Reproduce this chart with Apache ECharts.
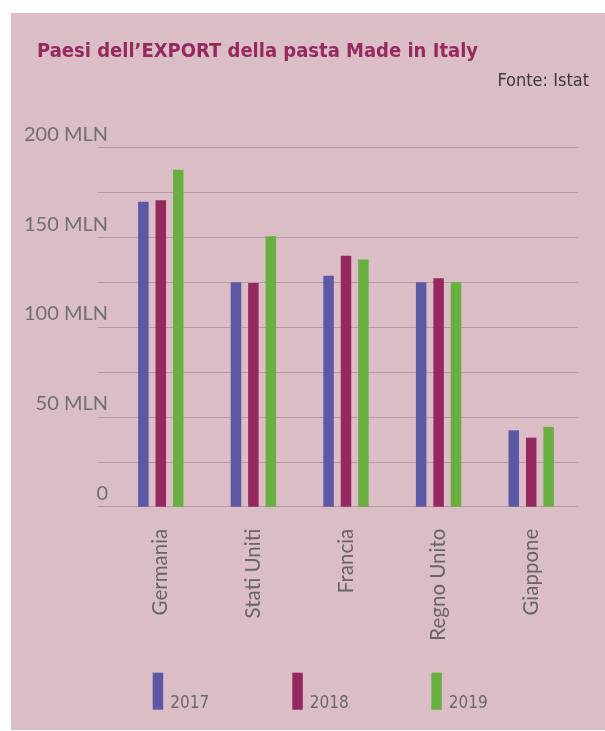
<!DOCTYPE html>
<html>
<head>
<meta charset="utf-8">
<script src="https://cdn.jsdelivr.net/npm/echarts@6/dist/echarts.min.js"></script>
<style>
html,body{margin:0;padding:0;background:#ffffff;}
#bg{position:absolute;left:11px;top:13px;width:594px;height:717px;background:#dbbdc5;}
#chart{position:absolute;left:0;top:0;width:605px;height:731px;}
</style>
</head>
<body>
<div id="bg"></div>
<div id="chart"></div>
<script>
const categories = ['Germania', 'Stati Uniti', 'Francia', 'Regno Unito', 'Giappone'];
const years = ['2017', '2018', '2019'];
const values2017 = [169.7, 124.9, 128.5, 124.9, 42.5];
const values2018 = [170.5, 124.5, 139.7, 127.1, 38.4];
const values2019 = [187.5, 150.5, 137.5, 124.9, 44.4];
const yTickValues = [0, 50, 100, 150, 200];
const yTickLabels = ['0', '50 MLN', '100 MLN', '150 MLN', '200 MLN'];
const titleText = 'Paesi dell\u2019EXPORT della pasta Made in Italy';
const sourceText = 'Fonte: Istat';

const colors = ['#5c58a6', '#962860', '#67af3e'];
const narrow = "'Liberation Sans Narrow','DejaVu Sans Condensed','Liberation Sans',sans-serif";
const legendLefts = [152.7, 292.3, 431.3];

const chart = echarts.init(document.getElementById('chart'), null, {renderer: 'canvas'});
const seriesValues = [values2017, values2018, values2019];

chart.setOption({
  backgroundColor: 'transparent',
  animation: false,
  title: [
    {text: titleText, left: 37, top: 42, padding: 0,
     textStyle: {fontFamily: narrow, fontWeight: 'bold', fontSize: 20, lineHeight: 20, color: '#962a5f'}},
    {text: sourceText, right: 16, top: 72, padding: 0,
     textStyle: {fontFamily: narrow, fontWeight: 'normal', fontSize: 18, lineHeight: 18, color: '#3a3a3a'}}
  ],
  legend: years.map((y, i) => ({
    data: [y],
    left: legendLefts[i], top: 672.7, padding: 0,
    icon: 'rect', itemWidth: 10.5, itemHeight: 37,
    selectedMode: false,
    formatter: '{t|{name}}',
    textStyle: {fontFamily: narrow, fontSize: 17, color: '#6a6a6a',
      rich: {t: {fontFamily: narrow, fontSize: 17, color: '#6a6a6a', padding: [24, 0, 0, 2]}}}
  })),
  grid: [
    {left: 114.5, right: 27.5, top: 147.3, bottom: 224.3, containLabel: false},
    {left: 98, right: 27.3, top: 147.3, bottom: 224.3, containLabel: false}
  ],
  xAxis: [
    {type: 'category', gridIndex: 0, data: categories,
     axisLine: {show: false}, axisTick: {show: false},
     axisLabel: {rotate: 90, margin: 22, fontFamily: 'Lato', fontSize: 20.5, color: '#666666'}},
    {type: 'value', gridIndex: 1, show: false}
  ],
  yAxis: [
    {type: 'value', gridIndex: 0, min: 0, max: 200, interval: 25, show: false, splitLine: {show: false}},
    {type: 'value', gridIndex: 1, min: 0, max: 200, interval: 25,
     axisLine: {show: false}, axisTick: {show: false},
     splitLine: {show: true, lineStyle: {color: '#b59ba6', width: 1}},
     axisLabel: {margin: -10, verticalAlign: 'bottom', padding: [0, 0, 3, 0],
       fontFamily: 'Lato', fontSize: 20, color: '#707070',
       formatter: function (v) { const i = yTickValues.indexOf(v); return i >= 0 ? yTickLabels[i] : ''; }}}
  ],
  series: years.map((y, i) => ({
    name: y, type: 'bar', xAxisIndex: 0, yAxisIndex: 0,
    data: seriesValues[i], barWidth: 10.5, barGap: '66%',
    itemStyle: {color: colors[i]}
  })),
  color: colors
});
</script>
</body>
</html>
